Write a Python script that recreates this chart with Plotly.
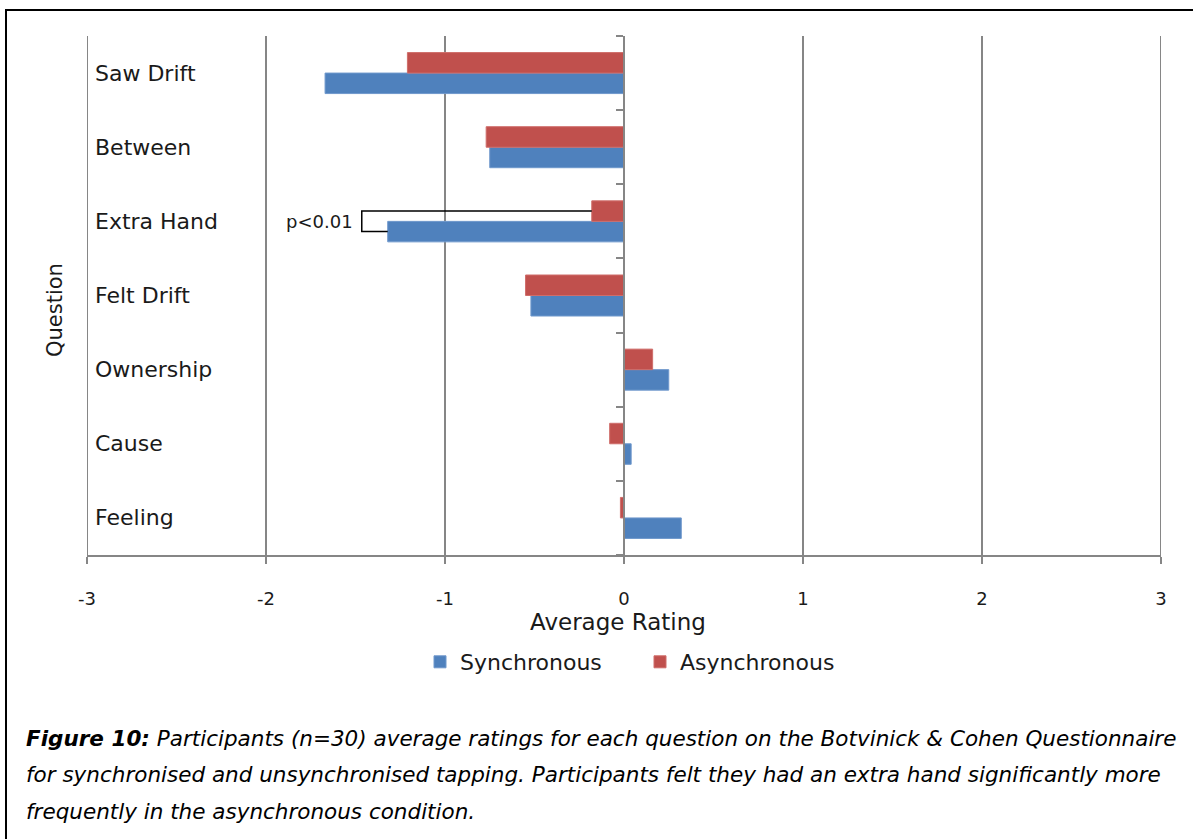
import plotly.graph_objects as go

# Questions listed bottom-to-top so "Saw Drift" ends up at the top of the chart
questions = ["Feeling", "Cause", "Ownership", "Felt Drift", "Extra Hand", "Between", "Saw Drift"]
synchronous = [0.32, 0.04, 0.25, -0.52, -1.32, -0.75, -1.67]
asynchronous = [-0.02, -0.08, 0.16, -0.55, -0.18, -0.77, -1.21]

x_ticks = [-3, -2, -1, 0, 1, 2, 3]
x_tick_text = [str(v) for v in x_ticks]
sig_question = "Extra Hand"
sig_label = "p<0.01"

BLUE = "#4F81BD"
RED = "#C0504D"
GRID = "#868686"
TEXT = "#1a1a1a"
FONT = "DejaVu Sans"
W, H = 1193, 839

x_dom = [87 / W, 1161 / W]
y_dom = [1 - 555 / H, 1 - 36 / H]
x_min, x_max = x_ticks[0], x_ticks[-1]
zero_pos = x_dom[0] + (0 - x_min) / (x_max - x_min) * (x_dom[1] - x_dom[0])

fig = go.Figure()
fig.add_trace(go.Bar(
    y=questions, x=synchronous, orientation="h", name="Synchronous",
    marker=dict(color=BLUE, line=dict(color="#6f98cc", width=1)),
))
fig.add_trace(go.Bar(
    y=questions, x=asynchronous, orientation="h", name="Asynchronous",
    marker=dict(color=RED, line=dict(color="#cf6d6a", width=1)),
))

# Gridlines at the two ends of the rating scale
for xv in (x_min, x_max):
    fig.add_shape(
        type="line", xref="x", yref="paper", x0=xv, x1=xv, y0=y_dom[0], y1=y_dom[1],
        line=dict(color=GRID, width=2), layer="below",
    )

# Significance bracket joining the two bars of the tested question
idx = questions.index(sig_question)
bar_w = (1 - 0.447) / 2
y_async = idx + bar_w / 2
y_sync = idx - bar_w / 2
x_bracket = -1.465
fig.add_shape(
    type="path", xref="x", yref="y",
    path=(f"M {asynchronous[idx]} {y_async} L {x_bracket} {y_async} "
          f"L {x_bracket} {y_sync} L {synchronous[idx]} {y_sync}"),
    line=dict(color="black", width=1.5),
)
fig.add_annotation(
    x=x_bracket, y=idx, xref="x", yref="y", text=sig_label, showarrow=False,
    xanchor="right", yanchor="middle", xshift=-7,
    font=dict(family=FONT, size=18, color=TEXT),
)

# Question labels drawn inside the left edge of the plot
for q in questions:
    fig.add_annotation(
        x=x_min, y=q, xref="x", yref="y", text=q, showarrow=False,
        xanchor="left", yanchor="middle", xshift=6,
        font=dict(family=FONT, size=22, color=TEXT),
    )

fig.add_annotation(
    x=55 / W, y=1 - 310 / H, xref="paper", yref="paper", text="Question",
    textangle=-90, showarrow=False, xanchor="center", yanchor="middle",
    font=dict(family=FONT, size=21, color=TEXT),
)
fig.add_annotation(
    x=618 / W, y=1 - 622 / H, xref="paper", yref="paper", text="Average Rating",
    showarrow=False, xanchor="center", yanchor="middle",
    font=dict(family=FONT, size=23, color=TEXT),
)

# Caption
caption = [
    "<b>Figure 10:</b> Participants (n=30) average ratings for each question on the Botvinick &amp; Cohen Questionnaire",
    "for synchronised and unsynchronised tapping. Participants felt they had an extra hand significantly more",
    "frequently in the asynchronous condition.",
]
for i, line in enumerate(caption):
    fig.add_annotation(
        x=24 / W, y=1 - (738 + 36.5 * i) / H, xref="paper", yref="paper",
        text=f"<i>{line}</i>", showarrow=False, xanchor="left", yanchor="middle",
        font=dict(family=FONT, size=21.5, color="black"),
    )

# Outer frame
fig.add_shape(
    type="rect", xref="paper", yref="paper",
    x0=6 / W, x1=1.02, y0=-0.02, y1=1 - 10 / H,
    line=dict(color="black", width=2), fillcolor="rgba(0,0,0,0)",
)

fig.update_layout(
    width=W, height=H,
    margin=dict(l=0, r=0, t=0, b=0, autoexpand=False),
    paper_bgcolor="white", plot_bgcolor="white",
    barmode="group", bargap=0.447, bargroupgap=0,
    font=dict(family=FONT, color=TEXT),
    xaxis=dict(
        domain=x_dom, range=[x_min, x_max], tickvals=x_ticks, ticktext=x_tick_text,
        showgrid=True, gridcolor=GRID, gridwidth=2, zeroline=False,
        showline=True, linecolor=GRID, linewidth=2,
        ticks="outside", ticklen=7, tickwidth=2, tickcolor=GRID,
        ticklabelstandoff=19, automargin=False,
        tickfont=dict(family=FONT, size=18, color=TEXT),
    ),
    yaxis=dict(
        domain=y_dom, type="category", categoryorder="array", categoryarray=questions,
        anchor="free", position=zero_pos, automargin=False,
        showline=True, linecolor=GRID, linewidth=2,
        ticks="outside", ticklen=7, tickwidth=2, tickcolor=GRID, tickson="boundaries",
        showticklabels=False, showgrid=False, zeroline=False,
    ),
    legend=dict(
        orientation="h", x=420 / W, xanchor="left", y=1 - 662 / H, yanchor="middle",
        font=dict(family=FONT, size=22, color=TEXT),
        entrywidth=175, entrywidthmode="pixels", bgcolor="rgba(0,0,0,0)",
    ),
    showlegend=True,
)

fig.write_html("out.html")
